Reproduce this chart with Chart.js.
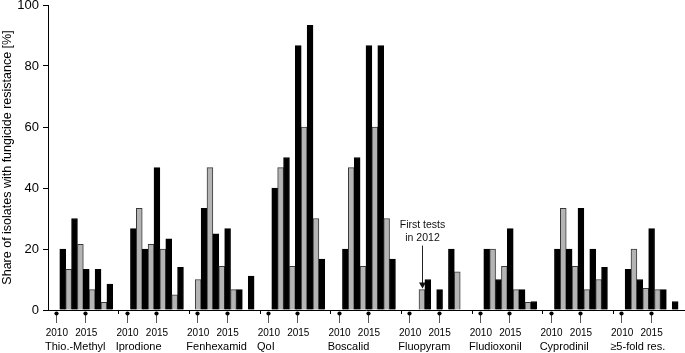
<!DOCTYPE html>
<html>
<head>
<meta charset="utf-8">
<script src="https://cdn.jsdelivr.net/npm/chart.js@4.4.1/dist/chart.umd.min.js"></script>
<style>
    body { margin: 0; background: #fff; }
</style>
</head>
<body>
<canvas id="myChart" width="685" height="353"></canvas>
<script>
        // fungicide groups along the x axis
        const groups = ['Thio.-Methyl', 'Iprodione', 'Fenhexamid', 'QoI', 'Boscalid', 'Fluopyram', 'Fludioxonil', 'Cyprodinil', '≥5-fold res.'];
        const years = [2010, 2011, 2012, 2013, 2014, 2015, 2016, 2017, 2018, 2019];
        const shownYears = [2010, 2015];

        // share of resistant isolates per year (%), null = no bar
        const thioMethyl  = [null, 20, 13.3, 30, 21.5, 13.3, 6.7, 13.3, 2.5, 8.5];
        const iprodione   = [null, 26.7, 33.3, 20, 21.5, 46.7, 20, 23.3, 5, 14];
        const fenhexamid  = [10, 33.3, 46.7, 25, 14.3, 26.7, 6.7, 6.7, null, 11.1];
        const qoi         = [null, 40, 46.7, 50, 14.3, 86.7, 60, 93.3, 30, 16.7];
        const boscalid    = [null, 20, 46.7, 50, 14.3, 86.7, 60, 86.7, 30, 16.7];
        const fluopyram   = [null, null, 6.7, 10, null, 6.7, null, 20, 12.5, null];
        const fludioxonil = [null, 20, 20, 10, 14.3, 26.7, 6.7, 6.7, 2.5, 2.8];
        const cyprodinil  = [null, 20, 33.3, 20, 14.3, 33.3, 6.7, 20, 10, 14];
        const fiveFold    = [null, 13.3, 20, 10, 7.1, 26.7, 6.7, 6.7, null, 2.8];

        const yTicks = [0, 20, 40, 60, 80, 100];

        // annotation
        const noteGroup = 'Fluopyram';
        const noteYear = 2012;
        const noteLines = ['First tests', 'in 2012'];

        const series = [thioMethyl, iprodione, fenhexamid, qoi, boscalid, fluopyram, fludioxonil, cyprodinil, fiveFold];

        // every group = one empty slot, ten years, one empty slot
        const perGroup = years.length + 2;
        const labels = [];
        const values = [];
        const slotYear = [];
        series.forEach(arr => {
            labels.push(''); values.push(null); slotYear.push(null);
            years.forEach((y, i) => {
                labels.push(String(y));
                values.push(arr[i]);
                slotYear.push(y);
            });
            labels.push(''); values.push(null); slotYear.push(null);
        });

        const fill = slotYear.map(y => (y !== null && y % 2 === 0) ? '#b4b4b4' : '#000000');
        const edge = slotYear.map(y => (y !== null && y % 2 === 0) ? '#3a3a3a' : '#000000');

        const fontFam = '"Liberation Sans", Arial, Helvetica, sans-serif';

        // lollipop markers under 2010/2015, group names, the "first tests" arrow
        const extras = {
            id: 'extras',
            afterDraw(chart) {
                const ctx = chart.ctx;
                const x = chart.scales.x;
                const y = chart.scales.y;
                const base = chart.chartArea.bottom;
                const slot = x.getPixelForValue(1) - x.getPixelForValue(0);
                ctx.save();

                groups.forEach((name, g) => {
                    shownYears.forEach(yr => {
                        const idx = g * perGroup + 1 + years.indexOf(yr);
                        const px = Math.round(x.getPixelForValue(idx)) - 1;
                        ctx.strokeStyle = '#555';
                        ctx.lineWidth = 1;
                        ctx.beginPath();
                        ctx.moveTo(px + 0.5, base + 4);
                        ctx.lineTo(px + 0.5, base + 13);
                        ctx.stroke();
                        ctx.fillStyle = '#000';
                        ctx.beginPath();
                        ctx.arc(px + 0.5, base + 3.5, 2.1, 0, Math.PI * 2);
                        ctx.fill();
                    });

                    const left = x.getPixelForValue(g * perGroup) - slot / 2;
                    ctx.fillStyle = '#000';
                    ctx.font = '11px ' + fontFam;
                    ctx.textAlign = 'left';
                    ctx.textBaseline = 'middle';
                    ctx.fillText(name, left - 3, base + 37);
                });

                // arrow with note
                const g = groups.indexOf(noteGroup);
                const idx = g * perGroup + 1 + years.indexOf(noteYear);
                const nx = Math.round(x.getPixelForValue(idx)) + 0.5;
                const top = y.getPixelForValue(fluopyram[years.indexOf(noteYear)]);
                ctx.strokeStyle = '#222';
                ctx.lineWidth = 1;
                ctx.beginPath();
                ctx.moveTo(nx, top - 44);
                ctx.lineTo(nx, top - 5);
                ctx.stroke();
                ctx.fillStyle = '#111';
                ctx.beginPath();
                ctx.moveTo(nx - 3.5, top - 7);
                ctx.lineTo(nx + 3.5, top - 7);
                ctx.lineTo(nx, top - 1);
                ctx.closePath();
                ctx.fill();
                ctx.font = '10.5px ' + fontFam;
                ctx.textAlign = 'center';
                ctx.textBaseline = 'middle';
                ctx.fillText(noteLines[0], nx, top - 64);
                ctx.fillText(noteLines[1], nx, top - 51);

                ctx.restore();
            }
        };

        const ctx = document.getElementById('myChart').getContext('2d');
        const myChart = new Chart(ctx, {
            type: 'bar',
            data: {
                labels: labels,
                datasets: [{
                    data: values,
                    backgroundColor: fill,
                    borderColor: edge,
                    borderWidth: 1,
                    barPercentage: 1,
                    categoryPercentage: 1
                }]
            },
            options: {
                responsive: false,
                animation: false,
                devicePixelRatio: 1,
                layout: { padding: { top: 5, right: 1, left: 0, bottom: 0 } },
                plugins: {
                    legend: { display: false },
                    tooltip: { enabled: false }
                },
                scales: {
                    x: {
                        type: 'category',
                        afterFit(scale) {
                            scale.height = 43;
                            scale.paddingLeft = 0;
                            scale.paddingRight = 0;
                        },
                        border: { display: true, color: '#000', width: 1 },
                        grid: {
                            display: true,
                            drawOnChartArea: false,
                            drawTicks: true,
                            tickLength: 4,
                            offset: true,
                            color: c => (c.index % perGroup === 0 && c.index > 0) ? '#000' : 'rgba(0,0,0,0)'
                        },
                        ticks: {
                            autoSkip: false,
                            maxRotation: 0,
                            minRotation: 0,
                            padding: 13,
                            color: '#000',
                            font: { family: fontFam, size: 10 },
                            callback: function (val, i) {
                                const y = slotYear[i];
                                return shownYears.includes(y) ? String(y) : '';
                            }
                        }
                    },
                    y: {
                        min: 0,
                        max: 100,
                        afterFit(scale) {
                            scale.width = 48;
                            scale.paddingTop = 0;
                            scale.paddingBottom = 0;
                        },
                        afterBuildTicks(scale) { scale.ticks = yTicks.map(v => ({ value: v })); },
                        border: { display: true, color: '#000', width: 1 },
                        grid: {
                            display: true,
                            drawOnChartArea: false,
                            drawTicks: true,
                            tickLength: 5,
                            color: '#000'
                        },
                        ticks: {
                            padding: 4,
                            color: '#000',
                            font: { family: fontFam, size: 13 }
                        },
                        title: {
                            display: true,
                            text: 'Share of isolates with fungicide resistance [%]',
                            color: '#000',
                            padding: { top: 0, bottom: 0 },
                            font: { family: fontFam, size: 12.5 }
                        }
                    }
                }
            },
            plugins: [extras]
        });
</script>
</body>
</html>
